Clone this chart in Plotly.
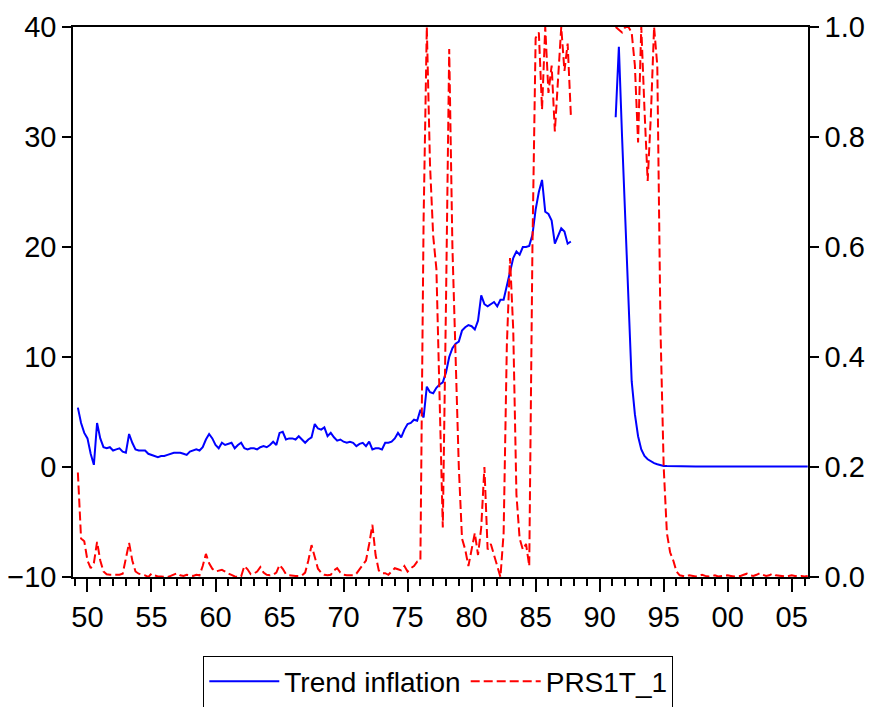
import plotly.graph_objects as go

# ---------------- data (quarterly) ----------------
first_year, first_quarter = 1949, 2          # first observation: 1949Q2
gap_quarters = 13                             # 1988Q1 .. 1991Q1 missing

# Trend inflation, 1949Q2 - 1987Q4
trend_a = [
    5.4, 4.0, 3.1, 2.6, 1.2, 0.2, 4.0, 2.6, 1.8, 1.7,
    1.8, 1.5, 1.6, 1.7, 1.4, 1.3, 3.0, 2.2, 1.6, 1.5,
    1.5, 1.5, 1.2, 1.1, 1.0, 0.9, 1.0, 1.0, 1.1, 1.2,
    1.3, 1.3, 1.3, 1.2, 1.1, 1.4, 1.5, 1.6, 1.5, 1.8,
    2.5, 3.0, 2.6, 2.0, 1.7, 2.2, 2.0, 2.1, 2.2, 1.7,
    2.0, 2.2, 1.7, 1.6, 1.7, 1.7, 1.6, 1.8, 1.9, 1.8,
    2.0, 2.3, 2.0, 3.1, 3.2, 2.5, 2.6, 2.6, 2.5, 2.8,
    2.5, 2.2, 2.5, 2.7, 3.9, 3.5, 3.4, 3.6, 2.8, 3.1,
    2.7, 2.4, 2.5, 2.3, 2.2, 2.3, 2.2, 1.9, 2.1, 2.2,
    1.9, 2.3, 1.6, 1.7, 1.7, 1.6, 2.2, 2.2, 2.3, 2.6,
    3.1, 2.7, 3.4, 3.9, 4.0, 4.3, 4.2, 5.2, 4.5, 7.3,
    6.8, 6.7, 7.2, 7.5, 7.7, 8.6, 10.0, 10.8, 11.2, 11.4,
    12.4, 12.7, 12.9, 12.8, 12.5, 13.3, 15.6, 14.8, 14.6, 14.8,
    15.0, 14.6, 15.2, 15.2, 16.5, 17.5, 19.0, 19.6, 19.3, 20.0,
    20.0, 20.1, 21.1, 23.4, 25.0, 26.1, 23.2, 23.0, 22.4, 20.3,
    21.0, 21.7, 21.4, 20.3, 20.5,
]
# Trend inflation, 1991Q2 - 2006Q1
trend_b = [
    31.8, 38.2, 30.0, 22.0, 14.5, 7.8, 4.8, 2.8, 1.6, 1.0,
    0.7, 0.5, 0.35, 0.25, 0.15, 0.1, 0.08, 0.07, 0.06, 0.05,
    0.05, 0.05, 0.05, 0.05, 0.05, 0.05, 0.05, 0.05, 0.05, 0.05,
    0.05, 0.05, 0.05, 0.05, 0.05, 0.05, 0.05, 0.05, 0.05, 0.05,
    0.05, 0.05, 0.05, 0.05, 0.05, 0.05, 0.05, 0.05, 0.05, 0.05,
    0.05, 0.05, 0.05, 0.05, 0.05, 0.05, 0.05, 0.05, 0.05, 0.05,
    0.05,
]
# PRS1T_1, 1949Q2 - 1987Q4
prs_a = [
    0.19, 0.07, 0.065, 0.03, 0.016, 0.025, 0.064, 0.03, 0.01, 0.005,
    0.004, 0.004, 0.004, 0.004, 0.006, 0.035, 0.062, 0.03, 0.01, 0.006,
    0.005, 0.003, 0.0, 0.006, 0.003, 0.001, 0.001, 0.001, 0.0, 0.002,
    0.005, 0.007, 0.003, 0.002, 0.004, 0.003, 0.002, 0.004, 0.003, 0.02,
    0.042, 0.025, 0.015, 0.01, 0.012, 0.013, 0.01, 0.006, 0.004, 0.001,
    0.0, 0.001, 0.02, 0.014, 0.005, 0.006, 0.01, 0.018, 0.008, 0.004,
    0.003, 0.004, 0.008, 0.022, 0.015, 0.005, 0.003, 0.002, 0.002, 0.002,
    0.003, 0.008, 0.03, 0.058, 0.036, 0.015, 0.008, 0.004, 0.003, 0.004,
    0.012, 0.016, 0.008, 0.004, 0.003, 0.003, 0.003, 0.006, 0.014, 0.02,
    0.03, 0.06, 0.095, 0.04, 0.012, 0.007, 0.007, 0.004, 0.01, 0.016,
    0.014, 0.012, 0.02, 0.01, 0.016, 0.02, 0.028, 0.03, 0.65, 1.0,
    0.75, 0.62, 0.56, 0.3, 0.09, 0.5, 0.96, 0.6, 0.4, 0.2,
    0.07, 0.05, 0.02, 0.05, 0.08, 0.04, 0.09, 0.2, 0.05, 0.06,
    0.04, 0.02, 0.0, 0.08, 0.42, 0.58, 0.45, 0.15, 0.07, 0.05,
    0.06, 0.02, 0.6, 0.98, 0.99, 0.85, 1.0, 0.88, 0.93, 0.81,
    0.9, 1.0, 0.92, 0.97, 0.84,
]
# PRS1T_1, 1991Q2 - 2006Q1
prs_b = [
    1.0, 0.995, 0.99, 1.0, 1.0, 0.99, 0.93, 0.79, 1.0, 0.85,
    0.72, 0.84, 1.0, 0.93, 0.45, 0.2, 0.08, 0.045, 0.03, 0.01,
    0.003, 0.002, 0.001, 0.003, 0.002, 0.001, 0.002, 0.004, 0.002, 0.001,
    0.002, 0.003, 0.001, 0.002, 0.002, 0.003, 0.002, 0.001, 0.002, 0.002,
    0.004, 0.006, 0.003, 0.002, 0.004, 0.007, 0.004, 0.002, 0.003, 0.006,
    0.003, 0.002, 0.002, 0.001, 0.002, 0.003, 0.002, 0.001, 0.002, 0.001,
    0.002,
]

tick_years = [1950, 1955, 1960, 1965, 1970, 1975, 1980, 1985, 1990, 1995, 2000, 2005]
tick_text = ["50", "55", "60", "65", "70", "75", "80", "85", "90", "95", "00", "05"]
left_ticks = [-10, 0, 10, 20, 30, 40]
right_ticks = [0.0, 0.2, 0.4, 0.6, 0.8, 1.0]
right_text = ["0.0", "0.2", "0.4", "0.6", "0.8", "1.0"]

# ---------------- assemble ----------------
trend = trend_a + [None] * gap_quarters + trend_b
prs = prs_a + [None] * gap_quarters + prs_b
t0 = first_year + (first_quarter - 1) / 4
t = [t0 + i / 4 for i in range(len(trend))]

FONT = "Liberation Sans, Arial, sans-serif"
fig = go.Figure()
fig.add_trace(go.Scatter(x=t, y=trend, mode="lines", name="Trend inflation",
                         line=dict(color="#0000FF", width=2), connectgaps=False))
fig.add_trace(go.Scatter(x=t, y=prs, mode="lines", name="PRS1T_1", yaxis="y2",
                         line=dict(color="#FF0000", width=2, dash="9px,4px"),
                         connectgaps=False))

axis_common = dict(showgrid=False, zeroline=False, showline=True, linecolor="black",
                   linewidth=1.5, ticks="outside", tickcolor="black", tickwidth=1.5,
                   automargin=False,
                   tickfont=dict(family=FONT, size=29, color="black"))

# the page body adds an 8px offset; margins compensate so the plot box sits at
# x 73..808, y 27..577 in the window
fig.update_layout(
    width=877, height=707,
    margin=dict(l=65, r=77, t=19, b=138, autoexpand=False),
    paper_bgcolor="white", plot_bgcolor="white",
    font=dict(family=FONT, size=29, color="black"),
    xaxis=dict(range=[1948.87, 2006.27], tickvals=tick_years, ticktext=tick_text,
               ticklen=13, mirror=True,
               minor=dict(tick0=1950, dtick=1, ticks="outside", ticklen=7,
                          tickcolor="black", tickwidth=1.5),
               **axis_common),
    yaxis=dict(range=[-10, 40], tickvals=left_ticks, ticklen=9, **axis_common),
    yaxis2=dict(range=[0, 1], tickvals=right_ticks, ticktext=right_text, ticklen=9,
                overlaying="y", side="right", **axis_common),
    legend=dict(orientation="h", x=0.497, xanchor="center", y=-0.143, yanchor="top",
                bordercolor="black", borderwidth=1, bgcolor="white",
                font=dict(family=FONT, size=28, color="black"),
                itemwidth=70),
    showlegend=True,
)

fig.write_html("out.html")
